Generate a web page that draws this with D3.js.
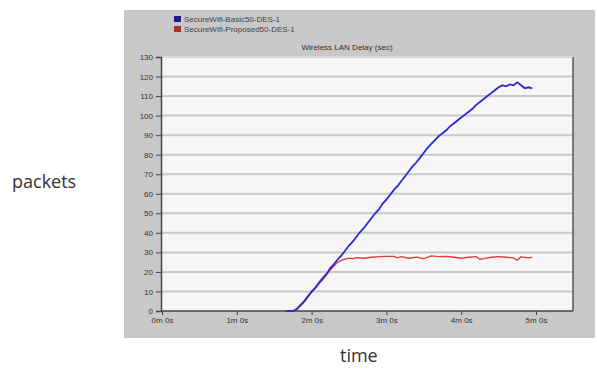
<!DOCTYPE html>
<html>
<head>
<meta charset="utf-8">
<script src="https://cdn.jsdelivr.net/npm/d3@7"></script>
<style>
  body { margin: 0; background: #fff; }
  svg { display: block; }
</style>
</head>
<body>
<div id="chart"></div>
<script>
// time in minutes
const basicTimes = [1.65, 1.70, 1.75, 1.80, 1.85, 1.90, 1.95, 2.00, 2.05, 2.10, 2.15, 2.20, 2.25, 2.30, 2.35, 2.40, 2.45, 2.50,
  2.55, 2.60, 2.65, 2.70, 2.75, 2.80, 2.85, 2.90, 2.95, 3.00, 3.05, 3.10, 3.15, 3.20, 3.25, 3.30, 3.35, 3.40,
  3.45, 3.50, 3.55, 3.60, 3.65, 3.70, 3.75, 3.80, 3.85, 3.90, 3.95, 4.00, 4.05, 4.10, 4.15, 4.20, 4.25, 4.30,
  4.35, 4.40, 4.45, 4.50, 4.55, 4.60, 4.65, 4.70, 4.75, 4.80, 4.85, 4.90, 4.95];
const basicValues = [0, 0, 0, 1, 3, 5, 7.5, 10, 12, 14.5, 17, 19, 22, 24, 26.5, 28.5, 31, 33.5,
  35.5, 38, 40.5, 42.5, 45, 47.5, 50, 52, 55, 57, 59.5, 62, 64, 66.5, 69, 71.5, 74, 76,
  78.5, 81, 83.5, 85.5, 87.5, 89.5, 91, 92.5, 94.5, 96, 97.5, 99, 100.5, 102, 103.5, 105.5, 107, 108.5,
  110, 111.5, 113, 114.5, 115.5, 115, 116, 115.5, 117, 115.5, 114, 114.5, 114];

const proposedTimes = [1.65, 1.70, 1.75, 1.80, 1.85, 1.90, 1.95, 2.00, 2.05, 2.10, 2.15, 2.20, 2.25, 2.30, 2.35, 2.40, 2.45, 2.50,
  2.55, 2.60, 2.70, 2.80, 2.90, 3.00, 3.10, 3.15, 3.20, 3.30, 3.40, 3.50, 3.60, 3.70, 3.80, 3.90,
  4.00, 4.10, 4.20, 4.25, 4.30, 4.40, 4.50, 4.60, 4.70, 4.75, 4.80, 4.85, 4.90, 4.95];
const proposedValues = [0, 0, 0, 0.5, 2.5, 4.5, 7, 9.5, 11.5, 14, 16, 18.5, 21, 23, 25, 26, 26.5, 27,
  26.8, 27.3, 27, 27.5, 27.8, 28, 28, 27.2, 27.8, 27, 27.6, 26.8, 28.2, 27.8, 28, 27.5,
  27, 27.5, 27.8, 26.5, 26.8, 27.5, 27.8, 27.5, 27.2, 26, 27.8, 27.5, 27.2, 27.5];

const seriesNames = ['SecureWifi-Basic50-DES-1', 'SecureWifi-Proposed50-DES-1'];
const seriesColors = ['#2a2ad0', '#e03a3a'];
const yTicks = [0, 10, 20, 30, 40, 50, 60, 70, 80, 90, 100, 110, 120, 130];
const xTicks = [0, 1, 2, 3, 4, 5];
const xTickLabels = ['0m 0s', '1m 0s', '2m 0s', '3m 0s', '4m 0s', '5m 0s'];

const width = 597, height = 370;
const panel = { x: 124, y: 10, w: 471, h: 328 };
const plot = { left: 161, right: 573, top: 57, bottom: 311 };

const svg = d3.select('#chart').append('svg')
  .attr('width', width).attr('height', height);

// grey panel
svg.append('rect')
  .attr('x', panel.x).attr('y', panel.y)
  .attr('width', panel.w).attr('height', panel.h)
  .attr('fill', '#c8c8c8');

const x = d3.scaleLinear().domain([0, 5]).range([162, 536]);
const y = d3.scaleLinear().domain([0, 130]).range([plot.bottom, plot.top]);

// plot area
svg.append('rect')
  .attr('x', plot.left).attr('y', plot.top)
  .attr('width', plot.right - plot.left).attr('height', plot.bottom - plot.top)
  .attr('fill', '#f6f6f6');

// horizontal grid
svg.append('g')
  .selectAll('line')
  .data(yTicks.filter((d) => d > 0))
  .join('line')
  .attr('x1', plot.left).attr('x2', plot.right)
  .attr('y1', (d) => y(d)).attr('y2', (d) => y(d))
  .attr('stroke', '#c9c9c9')
  .attr('stroke-width', 2);

// frame
svg.append('line')
  .attr('x1', plot.right).attr('x2', plot.right)
  .attr('y1', plot.top).attr('y2', plot.bottom)
  .attr('stroke', '#555').attr('stroke-width', 1.5);
svg.append('line')
  .attr('x1', plot.left).attr('x2', plot.right)
  .attr('y1', plot.top).attr('y2', plot.top)
  .attr('stroke', '#e8e8e8');

// y axis
const yAxis = svg.append('g')
  .attr('transform', `translate(${plot.left},0)`)
  .call(d3.axisLeft(y).tickValues(yTicks).tickSize(5).tickPadding(3));
yAxis.select('.domain').attr('stroke', '#444').attr('stroke-width', 1.5);
yAxis.selectAll('.tick line').attr('stroke', '#444');
yAxis.selectAll('text')
  .attr('font-family', 'Arial, "Liberation Sans", sans-serif')
  .attr('font-size', 8).attr('fill', '#333');

// x axis
const xAxis = svg.append('g')
  .attr('transform', `translate(0,${plot.bottom})`)
  .call(d3.axisBottom(x).tickValues(xTicks)
    .tickFormat((d, i) => xTickLabels[i]).tickSize(4).tickPadding(2));
xAxis.select('.domain').remove();
svg.append('line')
  .attr('x1', plot.left).attr('x2', plot.right)
  .attr('y1', plot.bottom).attr('y2', plot.bottom)
  .attr('stroke', '#444').attr('stroke-width', 1.5);
xAxis.selectAll('.tick line').attr('stroke', '#444');
xAxis.selectAll('text')
  .attr('font-family', 'Arial, "Liberation Sans", sans-serif')
  .attr('font-size', 8).attr('fill', '#333');

// title
svg.append('text')
  .attr('x', 347).attr('y', 50)
  .attr('text-anchor', 'middle')
  .attr('font-family', 'Arial, "Liberation Sans", sans-serif')
  .attr('font-size', 8).attr('fill', '#333')
  .text('Wireless LAN Delay (sec)');

// legend
const legend = svg.append('g')
  .selectAll('g')
  .data(seriesNames)
  .join('g')
  .attr('transform', (_, i) => `translate(174,${16 + i * 10})`);
legend.append('rect')
  .attr('width', 7).attr('height', 6)
  .attr('fill', (_, i) => (i === 0 ? '#1c1c8a' : '#a83232'));
legend.append('text')
  .attr('x', 10).attr('y', 6)
  .attr('font-family', 'Arial, "Liberation Sans", sans-serif')
  .attr('font-size', 8).attr('fill', '#444')
  .text((d) => d);

// series lines
const line = d3.line()
  .x((d) => x(d[0]))
  .y((d) => y(d[1]));

const series = [
  d3.zip(basicTimes, basicValues),
  d3.zip(proposedTimes, proposedValues),
];

svg.append('g')
  .selectAll('path')
  .data([series[1], series[0]])
  .join('path')
  .attr('d', line)
  .attr('fill', 'none')
  .attr('stroke', (_, i) => (i === 0 ? seriesColors[1] : seriesColors[0]))
  .attr('stroke-width', (_, i) => (i === 0 ? 1.3 : 1.8));

// outer labels
svg.append('text')
  .attr('x', 12).attr('y', 188)
  .attr('font-family', '"Open Sans", "Noto Sans", sans-serif')
  .attr('font-size', 18).attr('fill', '#333')
  .text('packets');
svg.append('text')
  .attr('x', 340).attr('y', 362)
  .attr('font-family', '"Open Sans", "Noto Sans", sans-serif')
  .attr('font-size', 18).attr('fill', '#333')
  .text('time');
</script>
</body>
</html>
